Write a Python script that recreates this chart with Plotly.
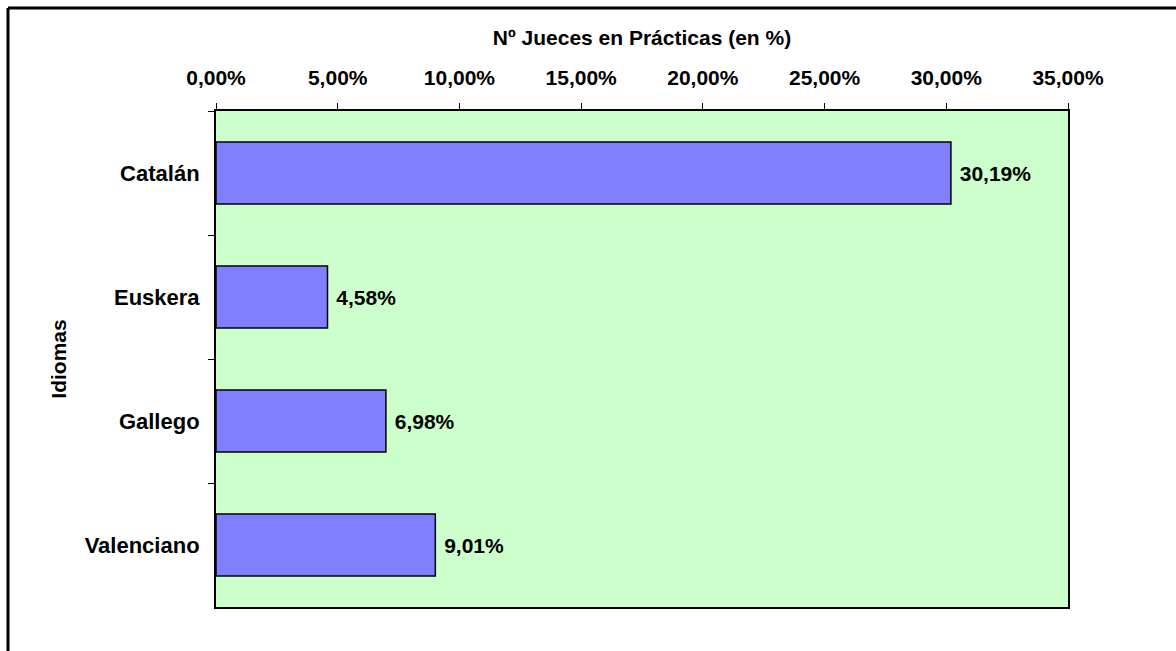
import plotly.graph_objects as go

categories = ["Catalán", "Euskera", "Gallego", "Valenciano"]
values = [30.19, 4.58, 6.98, 9.01]
x_ticks = [0, 5, 10, 15, 20, 25, 30, 35]
x_tick_labels = [f"{v:.2f}%".replace(".", ",") for v in x_ticks]

FONT = "Liberation Sans, Arial, sans-serif"

fig = go.Figure(go.Bar(
    y=categories, x=values, orientation="h",
    marker=dict(color="#8080FF", line=dict(color="black", width=1.5)),
    texttemplate="<b>\u00a0%{x:.2f}%</b>", textposition="outside",
    textfont=dict(family=FONT, size=21, color="black"),
    cliponaxis=False, width=0.5,
))

L, R, T, B = 216, 108, 111, 44
PW, PH = 1176 - L - R, 651 - T - B

fig.update_layout(
    width=1176, height=651,
    margin=dict(l=L, r=R, t=T, b=B),
    paper_bgcolor="white", plot_bgcolor="#CCFFCC",
    separators=",.",
    showlegend=False,
    font=dict(family=FONT, size=21, color="black"),
    xaxis=dict(
        side="top", range=[0, 35], tickvals=x_ticks, ticktext=x_tick_labels,
        ticks="outside", ticklen=6, tickcolor="black", tickwidth=1,
        ticklabelstandoff=10,
        showgrid=False, zeroline=False, showline=True, mirror=True,
        linecolor="black", linewidth=2,
        tickfont=dict(family=FONT, size=21, color="black", weight="bold"),
        title=dict(text="<b>Nº Jueces en Prácticas (en %)</b>",
                   font=dict(family=FONT, size=21), standoff=14),
    ),
    yaxis=dict(
        autorange="reversed", tickson="boundaries",
        ticks="outside", ticklen=6, tickcolor="black", tickwidth=1,
        ticklabelstandoff=10,
        showgrid=False, zeroline=False, showline=True, mirror=True,
        linecolor="black", linewidth=2,
        tickfont=dict(family=FONT, size=22, color="black", weight="bold"),
        title=dict(text="<b>Idiomas</b>", font=dict(family=FONT, size=21), standoff=12),
    ),
    shapes=[
        dict(type="line", xref="paper", yref="paper",
             x0=(8 - L) / PW, x1=(8 - L) / PW,
             y0=1 + (T - 8) / PH, y1=-0.2,
             line=dict(color="black", width=3)),
        dict(type="line", xref="paper", yref="paper",
             x0=(8 - L) / PW, x1=1.2,
             y0=1 + (T - 8) / PH, y1=1 + (T - 8) / PH,
             line=dict(color="black", width=3)),
    ],
)

fig.write_html("out.html", config={"displayModeBar": False},
               post_script="document.body.style.margin='0';")
